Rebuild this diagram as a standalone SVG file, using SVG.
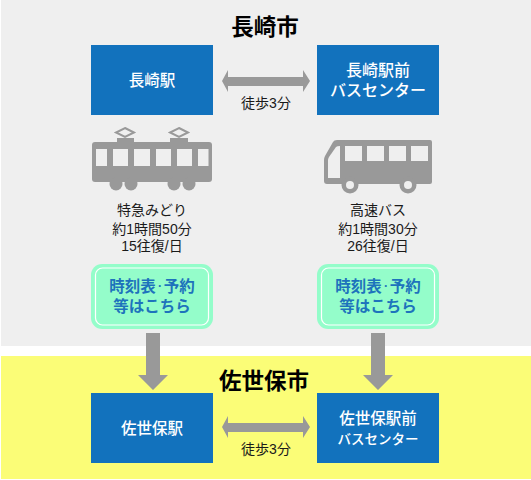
<svg xmlns="http://www.w3.org/2000/svg" width="531" height="480" viewBox="0 0 531 480">
<style>
text{font-family:"Liberation Sans","Noto Sans CJK JP",sans-serif;text-anchor:middle}
.box{fill:#1272bd}
.bt{fill:#fff;font-size:15.500px;font-weight:500}
.bl{fill:#fff;font-size:16px;font-weight:500}
.bs{fill:#fff;font-size:13.500px;font-weight:500}
.ht{font-size:22.500px;font-weight:700;fill:#000}
.t{font-size:14px;fill:#1a1a1a}
.ic{fill:#999}
.hole{fill:#efefef}
.btn{fill:#94fdca}
.btnl{fill:none;stroke:#fff;stroke-width:1.200}
.bb{font-size:15.500px;font-weight:700;fill:#1d73bc}
.dot{font-size:8px}
.ar{fill:#999}
</style>
<rect x="1" y="0" width="530" height="346" fill="#efefef"/>
<rect x="1" y="356" width="530" height="123" fill="#fbfd77"/>
<g id="title-nagasaki"><text class="ht" x="265" y="35">長崎市</text></g>
<g id="title-sasebo"><text class="ht" x="264" y="389">佐世保市</text></g>
<g id="connectors">
<path class="ar" d="M222 81 L228 70 V77 H303 V70 L310 81 L303 92 V86 H228 V92Z"/>
<path class="ar" d="M222 427 L228 416 V423 H303 V416 L310 427 L303 438 V432 H228 V438Z"/>
<path class="ar" d="M146 333 H160 V375 H168 L153 390 L138 375 H146Z"/>
<path class="ar" d="M371 333 H385 V375 H393 L378 390 L363 375 H371Z"/>
</g>
<g id="node-nagasaki-st"><rect class="box" x="91" y="45" width="122" height="70"/><text class="bt" x="152" y="86">長崎駅</text></g>
<g id="node-nagasaki-bus"><rect class="box" x="317" y="45" width="122" height="70"/><text class="bl" x="378" y="76">長崎駅前</text><text class="bl" x="378" y="96">バスセンター</text></g>
<g id="node-walk1"><text class="t" x="266" y="108">徒歩3分</text></g>
<g id="node-train">
<path d="M125 128 L134 132.500 L125 137 L116 132.500Z M179 128 L188 132.500 L179 137 L170 132.500Z" fill="none" stroke="#999" stroke-width="2"/>
<rect class="ic" x="117" y="138" width="17" height="5"/><rect class="ic" x="170" y="138" width="18" height="5"/>
<rect class="ic" x="92" y="142" width="120" height="40" rx="3"/>
<circle class="ic" cx="116" cy="184" r="6.500"/><circle class="ic" cx="131" cy="184" r="6.500"/><circle class="ic" cx="174" cy="184" r="6.500"/><circle class="ic" cx="189" cy="184" r="6.500"/>
<rect class="hole" x="96" y="149" width="11" height="17"/><rect class="hole" x="113" y="149" width="15" height="17"/><rect class="hole" x="134" y="149" width="16" height="17"/><rect class="hole" x="156" y="149" width="15" height="17"/><rect class="hole" x="177" y="149" width="15" height="17"/><rect class="hole" x="198" y="149" width="10.500" height="17"/>
</g>
<g id="node-bus">
<path class="ic" d="M337 140 H430 Q432 140 432 142 V182 Q432 184 430 184 H327 Q324 184 324 181 V160 Q324 158 325 156 L333 142 Q334 140 337 140Z"/>
<circle class="ic" cx="350" cy="185" r="8.500"/><circle class="ic" cx="408" cy="185" r="8.500"/>
<circle class="hole" cx="350" cy="185" r="4"/><circle class="hole" cx="408" cy="185" r="4"/>
<path class="hole" d="M340 146 V178 H328 V160 Q328 159 329 157 L336 147 Q337 146 340 146Z"/>
<rect class="hole" x="345" y="146" width="17" height="15"/><rect class="hole" x="367" y="146" width="17" height="15"/><rect class="hole" x="389" y="146" width="17" height="15"/><rect class="hole" x="411" y="146" width="17" height="15"/>
</g>
<g id="node-train-info"><text class="t" x="152" y="215">特急みどり</text><text class="t" x="152" y="234">約1時間50分</text><text class="t" x="152" y="251">15往復/日</text></g>
<g id="node-bus-info"><text class="t" x="378" y="215">高速バス</text><text class="t" x="378" y="234">約1時間30分</text><text class="t" x="378" y="251">26往復/日</text></g>
<g id="node-btn-train"><rect class="btn" x="91" y="264" width="122" height="65" rx="11"/><rect class="btnl" x="95.500" y="268" width="113" height="57" rx="7"/><text class="bb" x="152" y="292">時刻表<tspan class="dot" dy="-3">・</tspan><tspan dy="3">予約</tspan></text><text class="bb" x="152" y="312">等はこちら</text></g>
<g id="node-btn-bus"><rect class="btn" x="317" y="264" width="122" height="65" rx="11"/><rect class="btnl" x="321.500" y="268" width="113" height="57" rx="7"/><text class="bb" x="378" y="292">時刻表<tspan class="dot" dy="-3">・</tspan><tspan dy="3">予約</tspan></text><text class="bb" x="378" y="312">等はこちら</text></g>
<g id="node-sasebo-st"><rect class="box" x="91" y="393" width="122" height="70"/><text class="bt" x="152" y="434">佐世保駅</text></g>
<g id="node-sasebo-bus"><rect class="box" x="317" y="393" width="122" height="70"/><text class="bt" x="378" y="424">佐世保駅前</text><text class="bs" x="378" y="444">バスセンター</text></g>
<g id="node-walk2"><text class="t" x="266" y="454">徒歩3分</text></g>
</svg>
